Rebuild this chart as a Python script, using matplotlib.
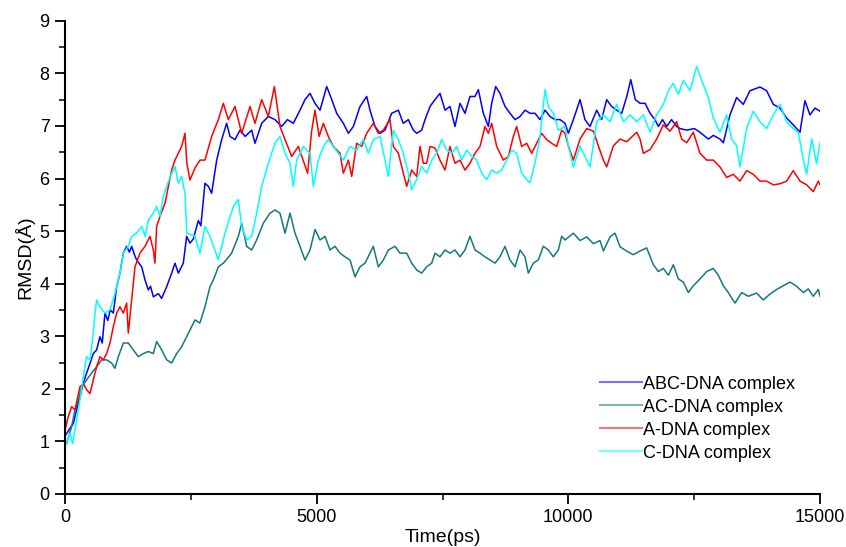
import matplotlib
matplotlib.use('Agg')
import matplotlib.pyplot as plt
from matplotlib.ticker import MultipleLocator

plt.rcParams['font.family'] = ['Liberation Sans', 'DejaVu Sans']

# ABC-DNA complex (blue)
abc_t = [0, 100, 166, 230, 298, 364, 430, 500, 563, 629, 695, 740, 795, 850, 900, 960, 1027, 1093,
         1159, 1225, 1280, 1325, 1380, 1424, 1524, 1590, 1656, 1700, 1755, 1855, 1920, 2020, 2119,
         2186, 2252, 2351, 2417, 2483, 2550, 2649, 2700, 2781, 2850, 2914, 3014, 3113, 3212, 3278,
         3378, 3477, 3580, 3709, 3775, 3908, 4040, 4172, 4305, 4420, 4537, 4669, 4768, 4868, 4967,
         5067, 5199, 5300, 5398, 5530, 5630, 5729, 5861, 5994, 6060, 6159, 6260, 6358, 6490, 6623,
         6720, 6821, 6920, 6987, 7086, 7153, 7252, 7351, 7450, 7550, 7649, 7748, 7848, 7947, 8046,
         8146, 8212, 8311, 8411, 8477, 8556, 8642, 8742, 8841, 8941, 9040, 9139, 9238, 9338, 9437,
         9537, 9636, 9735, 9835, 9934, 10000, 10100, 10232, 10330, 10431, 10563, 10660, 10762,
         10860, 10961, 11060, 11160, 11240, 11330, 11425, 11525, 11624, 11720, 11789, 11870, 11954,
         12050, 12153, 12218, 12350, 12502, 12615, 12781, 12880, 13013, 13080, 13211, 13343, 13476,
         13608, 13807, 13939, 14072, 14204, 14337, 14469, 14602, 14700, 14800, 14900, 15000]
abc_v = [1.1, 1.25, 1.34, 1.6, 1.85, 2.1, 2.3, 2.49, 2.67, 2.74, 2.99, 2.87, 3.44, 3.3, 3.5, 3.44, 3.94,
         4.2, 4.58, 4.71, 4.6, 4.71, 4.55, 4.45, 4.32, 4.07, 3.88, 3.95, 3.75, 3.81, 3.72, 3.94, 4.2,
         4.39, 4.2, 4.39, 4.9, 4.77, 4.85, 5.2, 5.1, 5.91, 5.85, 5.72, 6.35, 6.74, 7.05, 6.8, 6.74,
         6.92, 6.8, 6.92, 6.67, 7.05, 7.18, 7.12, 6.99, 7.12, 7.05, 7.3, 7.5, 7.62, 7.43, 7.3, 7.75,
         7.5, 7.24, 7.05, 6.86, 6.99, 7.37, 7.56, 7.3, 6.99, 6.86, 6.92, 7.24, 7.3, 7.05, 7.12, 6.92,
         6.86, 6.92, 7.12, 7.37, 7.5, 7.62, 7.3, 7.37, 6.99, 7.43, 7.24, 7.56, 7.56, 7.69, 7.24, 6.99,
         7.43, 7.75, 7.62, 7.37, 7.24, 7.12, 7.18, 7.3, 7.24, 7.24, 7.12, 7.3, 7.18, 7.12, 7.12, 7.05,
         6.86, 7.12, 7.5, 7.12, 6.99, 7.3, 7.12, 7.5, 7.37, 7.3, 7.24, 7.56, 7.88, 7.5, 7.43, 7.43,
         7.24, 7.12, 6.99, 7.12, 6.99, 7.12, 6.99, 6.95, 6.92, 6.95, 6.88, 6.75, 6.82, 6.75, 6.68,
         7.21, 7.54, 7.41, 7.67, 7.74, 7.67, 7.41, 7.34, 7.15, 7.02, 6.88, 7.48, 7.21, 7.34, 7.28]

# AC-DNA complex (teal)
ac_t = [0, 33, 132, 199, 265, 331, 430, 530, 629, 729, 828, 927, 993, 1060, 1159, 1258, 1358, 1457,
        1557, 1656, 1755, 1821, 1921, 2020, 2119, 2219, 2318, 2417, 2483, 2583, 2680, 2781, 2880,
        2960, 3047, 3146, 3245, 3311, 3444, 3510, 3610, 3709, 3808, 3941, 4073, 4172, 4272, 4371,
        4471, 4570, 4669, 4768, 4868, 4967, 5067, 5166, 5265, 5364, 5464, 5563, 5662, 5762, 5861,
        5961, 6060, 6126, 6225, 6325, 6424, 6556, 6655, 6788, 6888, 6987, 7086, 7186, 7285, 7351,
        7450, 7550, 7649, 7748, 7848, 7947, 8046, 8146, 8245, 8344, 8444, 8543, 8642, 8742, 8841,
        8941, 9040, 9139, 9205, 9304, 9404, 9503, 9603, 9702, 9801, 9868, 9934, 10100, 10232, 10365,
        10497, 10630, 10696, 10828, 10927, 11027, 11159, 11290, 11424, 11556, 11689, 11788, 11887,
        11987, 12086, 12185, 12284, 12384, 12483, 12615, 12748, 12880, 12980, 13079, 13178, 13310,
        13443, 13575, 13740, 13873, 14005, 14138, 14270, 14403, 14535, 14668, 14767, 14866, 14966,
        15000]
ac_v = [1.0, 0.96, 1.28, 1.6, 1.79, 2.04, 2.17, 2.3, 2.42, 2.55, 2.55, 2.49, 2.39, 2.61, 2.87, 2.87,
        2.74, 2.61, 2.67, 2.71, 2.67, 2.9, 2.74, 2.55, 2.49, 2.67, 2.8, 2.99, 3.12, 3.31, 3.25, 3.56,
        3.94, 4.1, 4.32, 4.39, 4.5, 4.58, 4.9, 5.15, 4.71, 4.64, 4.83, 5.15, 5.34, 5.4, 5.34, 4.96,
        5.34, 4.96, 4.71, 4.45, 4.64, 5.03, 4.83, 4.9, 4.64, 4.71, 4.58, 4.51, 4.45, 4.13, 4.32, 4.39,
        4.58, 4.71, 4.32, 4.45, 4.64, 4.71, 4.58, 4.58, 4.39, 4.26, 4.2, 4.32, 4.39, 4.58, 4.51, 4.64,
        4.58, 4.64, 4.51, 4.64, 4.9, 4.64, 4.58, 4.51, 4.45, 4.39, 4.51, 4.71, 4.45, 4.32, 4.64, 4.51,
        4.2, 4.39, 4.45, 4.71, 4.64, 4.51, 4.64, 4.9, 4.83, 4.96, 4.82, 4.89, 4.76, 4.82, 4.62, 4.89,
        4.96, 4.7, 4.62, 4.55, 4.62, 4.68, 4.36, 4.23, 4.29, 4.16, 4.36, 4.09, 4.03, 3.83, 3.96, 4.09,
        4.23, 4.29, 4.16, 3.96, 3.83, 3.63, 3.83, 3.76, 3.82, 3.69, 3.8, 3.89, 3.96, 4.03, 3.95, 3.83,
        3.9, 3.76, 3.89, 3.76]

# A-DNA complex (red)
a_t = [0, 66, 132, 199, 298, 364, 430, 497, 563, 629, 695, 761, 828, 894, 960, 1027, 1093, 1159,
       1225, 1258, 1325, 1391, 1490, 1590, 1689, 1755, 1788, 1821, 1888, 1987, 2053, 2119, 2186,
       2252, 2318, 2384, 2420, 2483, 2583, 2682, 2781, 2914, 3047, 3146, 3245, 3378, 3510, 3676,
       3775, 3908, 4040, 4160, 4272, 4371, 4504, 4636, 4821, 4900, 4967, 5050, 5133, 5232, 5331,
       5464, 5530, 5630, 5696, 5795, 5894, 5994, 6126, 6225, 6325, 6457, 6523, 6623, 6722, 6788,
       6888, 6987, 7053, 7120, 7186, 7252, 7351, 7450, 7550, 7649, 7748, 7848, 7947, 8046, 8146,
       8245, 8344, 8411, 8477, 8576, 8709, 8808, 8907, 8974, 9073, 9172, 9272, 9371, 9470, 9570,
       9669, 9768, 9868, 9934, 10000, 10100, 10232, 10365, 10500, 10596, 10696, 10762, 10894,
       11027, 11160, 11358, 11424, 11490, 11622, 11755, 11887, 12020, 12152, 12251, 12350, 12483,
       12615, 12748, 12880, 13013, 13145, 13277, 13410, 13542, 13675, 13807, 13939, 14072, 14204,
       14337, 14469, 14602, 14734, 14866, 14966, 15000]
a_v = [1.22, 1.47, 1.66, 1.6, 2.04, 2.1, 1.98, 1.91, 2.17, 2.42, 2.61, 2.55, 2.67, 2.87, 3.18, 3.44,
       3.56, 3.44, 3.63, 3.06, 3.7, 4.32, 4.58, 4.71, 4.9, 4.64, 4.39, 5.09, 5.28, 5.53, 5.85, 6.16,
       6.35, 6.48, 6.61, 6.86, 6.3, 5.97, 6.2, 6.35, 6.35, 6.8, 7.12, 7.43, 7.12, 7.37, 6.86, 7.37,
       7.05, 7.5, 7.18, 7.75, 6.99, 6.74, 6.42, 6.61, 6.1, 6.9, 7.3, 6.8, 7.05, 6.8, 6.61, 6.48, 6.1,
       6.35, 6.04, 6.67, 6.61, 6.86, 7.05, 6.86, 6.92, 7.12, 6.61, 6.48, 6.1, 5.85, 6.16, 6.04, 6.61,
       6.29, 6.29, 6.61, 6.58, 6.35, 6.16, 6.61, 6.29, 6.35, 6.16, 6.29, 6.48, 6.61, 6.99, 6.86, 7.05,
       6.61, 6.35, 6.42, 6.8, 6.99, 6.61, 6.67, 6.48, 6.67, 6.86, 6.74, 6.67, 6.61, 6.92, 6.86, 6.62,
       6.35, 6.75, 6.95, 6.9, 6.62, 6.35, 6.22, 6.62, 6.75, 6.7, 6.88, 6.75, 6.48, 6.55, 6.75, 7.02,
       6.9, 7.08, 6.75, 6.68, 6.88, 6.48, 6.35, 6.35, 6.22, 6.02, 6.08, 5.95, 6.15, 6.08, 5.95, 5.95,
       5.88, 5.9, 5.95, 6.15, 5.95, 5.88, 5.75, 5.95, 5.88]

# C-DNA complex (cyan)
c_t = [0, 99, 152, 232, 298, 364, 430, 497, 563, 596, 629, 695, 795, 894, 993, 1093, 1159, 1258,
       1325, 1424, 1524, 1590, 1656, 1755, 1821, 1888, 1954, 2020, 2119, 2186, 2252, 2318, 2384,
       2420, 2583, 2682, 2781, 2881, 3047, 3179, 3345, 3444, 3510, 3610, 3709, 3808, 3908, 4040,
       4172, 4272, 4371, 4471, 4537, 4603, 4735, 4868, 4934, 5034, 5133, 5232, 5331, 5431, 5530,
       5662, 5795, 5928, 6027, 6126, 6258, 6358, 6424, 6523, 6623, 6722, 6821, 6888, 6987, 7086,
       7186, 7285, 7384, 7483, 7583, 7682, 7781, 7881, 7980, 8080, 8179, 8279, 8378, 8477, 8576,
       8675, 8775, 8874, 8974, 9073, 9172, 9238, 9338, 9437, 9537, 9603, 9702, 9801, 9934, 10000,
       10100, 10232, 10365, 10431, 10563, 10696, 10828, 10960, 11093, 11226, 11358, 11490, 11622,
       11755, 11887, 11987, 12086, 12185, 12284, 12417, 12549, 12648, 12781, 12880, 13013, 13145,
       13244, 13343, 13410, 13542, 13675, 13807, 13939, 14072, 14204, 14337, 14469, 14569, 14668,
       14734, 14834, 14932, 15000]
c_v = [0.9, 1.15, 0.96, 1.41, 1.79, 2.23, 2.61, 2.55, 3.06, 3.44, 3.69, 3.56, 3.44, 3.5, 3.81, 4.2,
       4.58, 4.71, 4.9, 4.96, 5.09, 4.9, 5.21, 5.34, 5.47, 5.28, 5.66, 5.85, 6.1, 6.23, 5.91, 6.04,
       5.72, 4.96, 4.9, 4.58, 5.09, 4.9, 4.45, 4.96, 5.47, 5.6, 5.09, 4.83, 4.9, 5.34, 5.85, 6.29,
       6.67, 6.8, 6.48, 6.29, 5.85, 6.35, 6.61, 6.48, 5.85, 6.35, 6.61, 6.74, 6.61, 6.48, 6.35, 6.61,
       6.54, 6.74, 6.48, 6.74, 6.8, 6.35, 6.04, 6.92, 6.74, 6.48, 6.1, 5.79, 5.98, 6.23, 6.1, 6.35,
       6.48, 6.74, 6.54, 6.48, 6.61, 6.35, 6.54, 6.42, 6.35, 6.1, 5.98, 6.16, 6.1, 6.16, 6.35, 6.54,
       6.48, 6.1, 5.98, 5.92, 6.29, 6.8, 7.69, 7.37, 7.24, 6.92, 6.99, 6.62, 6.22, 6.62, 6.35, 6.22,
       7.08, 7.21, 7.08, 7.41, 7.08, 7.21, 7.08, 7.21, 6.88, 7.21, 7.41, 7.67, 7.81, 7.6, 7.87, 7.67,
       8.13, 7.87, 7.54, 7.15, 6.88, 7.21, 6.75, 6.62, 6.22, 6.95, 7.28, 7.08, 6.95, 7.21, 7.41, 7.08,
       6.95, 6.88, 6.35, 6.08, 6.75, 6.28, 6.68]

labels = ['ABC-DNA complex', 'AC-DNA complex', 'A-DNA complex', 'C-DNA complex']
colors = ['#0000ff', '#137a7a', '#ff0000', '#00ffff']

fig = plt.figure(figsize=(8.46, 5.47), dpi=100)
ax = fig.add_axes([0.0768, 0.097, 0.8925, 0.865])

series = [(abc_t, abc_v), (ac_t, ac_v), (a_t, a_v), (c_t, c_v)]
for (t, v), lab, col in zip(series, labels, colors):
    ax.plot(t, v, color=col, lw=1.1, label=lab)

ax.set_xlim(0, 15000)
ax.set_ylim(0, 9)
ax.xaxis.set_major_locator(MultipleLocator(5000))
ax.xaxis.set_minor_locator(MultipleLocator(2500))
ax.yaxis.set_major_locator(MultipleLocator(1))
ax.yaxis.set_minor_locator(MultipleLocator(0.5))

for side in ['top', 'right']:
    ax.spines[side].set_visible(False)
for side in ['left', 'bottom']:
    ax.spines[side].set_linewidth(1.5)

ax.tick_params(which='major', direction='out', length=7, width=1.3, labelsize=13, pad=4)
ax.tick_params(which='minor', direction='out', length=4, width=1.1)

ax.set_xlabel('Time(ps)', fontsize=14, labelpad=2)
ax.set_ylabel('RMSD(Å)', fontsize=14, labelpad=4)

leg = ax.legend(loc='upper left', bbox_to_anchor=(0.709, 0.25), frameon=False,
                fontsize=13, handlelength=2.3, handletextpad=0.05, labelspacing=0.33,
                borderpad=0, borderaxespad=0)
for line in leg.get_lines():
    line.set_alpha(0.55)
    line.set_linewidth(1.5)

fig.savefig('out.png', dpi=100)
